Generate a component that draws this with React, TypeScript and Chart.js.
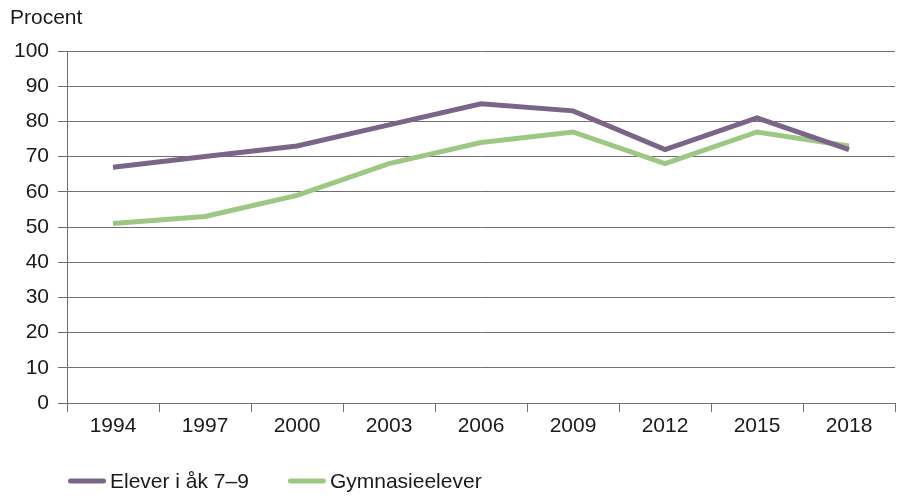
import React, { useEffect, useRef } from "react";
import { Chart, registerables } from "chart.js";

Chart.register(...registerables);

const years = ["1994", "1997", "2000", "2003", "2006", "2009", "2012", "2015", "2018"];
const eleverAk79 = [67, 70, 73, 79, 85, 83, 72, 81, 72];
const gymnasieelever = [51, 53, 59, 68, 74, 77, 68, 77, 73];
const seriesLabels = ["Elever i åk 7–9", "Gymnasieelever"];
const yTitle = "Procent";

const FONT = "'Liberation Sans', Arial, sans-serif";
const FS = 21;
const PURPLE = "#7a6589";
const GREEN = "#9dc884";
const GRID = "#6f6f6f";

const bottomLegend = {
  id: "bottomLegend",
  afterDraw(chart: any) {
    const ctx = chart.ctx;
    const area = chart.chartArea;
    ctx.save();
    ctx.font = `${FS}px ${FONT}`;
    ctx.textBaseline = "middle";
    ctx.textAlign = "left";
    let x = area.left + 1;
    const y = 481;
    chart.data.datasets.forEach((ds: any) => {
      ctx.beginPath();
      ctx.lineCap = "round";
      ctx.lineWidth = 5;
      ctx.strokeStyle = ds.borderColor;
      ctx.moveTo(x + 2.5, y);
      ctx.lineTo(x + 35.5, y);
      ctx.stroke();
      ctx.fillStyle = "#1a1a1a";
      ctx.fillText(ds.label, x + 42, y + 1);
      x += 42 + ctx.measureText(ds.label).width + 39;
    });
    ctx.restore();
  },
};

export default function App() {
  const ref = useRef<HTMLCanvasElement | null>(null);
  useEffect(() => {
    if (!ref.current) return;
    const chart = new Chart(ref.current, {
      type: "line",
      data: {
        labels: years,
        datasets: [
          {
            label: seriesLabels[0],
            data: eleverAk79,
            borderColor: PURPLE,
            backgroundColor: PURPLE,
            borderWidth: 5,
            pointRadius: 0,
            tension: 0,
          },
          {
            label: seriesLabels[1],
            data: gymnasieelever,
            borderColor: GREEN,
            backgroundColor: GREEN,
            borderWidth: 5,
            pointRadius: 0,
            tension: 0,
          },
        ],
      },
      options: {
        animation: false,
        responsive: false,
        layout: { padding: { left: 10, right: 6, top: 0, bottom: 53 } },
        plugins: {
          legend: { display: false },
          tooltip: { enabled: false },
          title: {
            display: true,
            text: yTitle,
            align: "start",
            color: "#1a1a1a",
            font: { family: FONT, size: FS, weight: "normal", lineHeight: 1.2 },
            padding: { top: 6, bottom: 19.8 },
          },
        },
        scales: {
          x: {
            type: "category",
            offset: true,
            grid: {
              offset: true,
              drawOnChartArea: false,
              drawTicks: true,
              tickLength: 9,
              color: GRID,
            },
            border: { color: GRID, width: 1 },
            ticks: {
              color: "#1a1a1a",
              font: { family: FONT, size: FS },
              padding: 2,
              maxRotation: 0,
              autoSkip: false,
            },
            afterFit(scale: any) {
              scale.height = 40;
            },
          },
          y: {
            min: 0,
            max: 100,
            ticks: {
              stepSize: 10,
              color: "#1a1a1a",
              font: { family: FONT, size: FS },
              padding: 9,
            },
            grid: { color: GRID, tickLength: 9, drawTicks: true },
            border: { color: GRID, width: 1 },
            afterFit(scale: any) {
              scale.width = 57;
            },
          },
        },
      },
      plugins: [bottomLegend],
    });
    return () => chart.destroy();
  }, []);
  return (
    <div style={{ position: "absolute", left: 0, top: 0, width: 901, height: 496, background: "#fff" }}>
      <canvas ref={ref} width={901} height={496} style={{ display: "block" }} />
    </div>
  );
}
